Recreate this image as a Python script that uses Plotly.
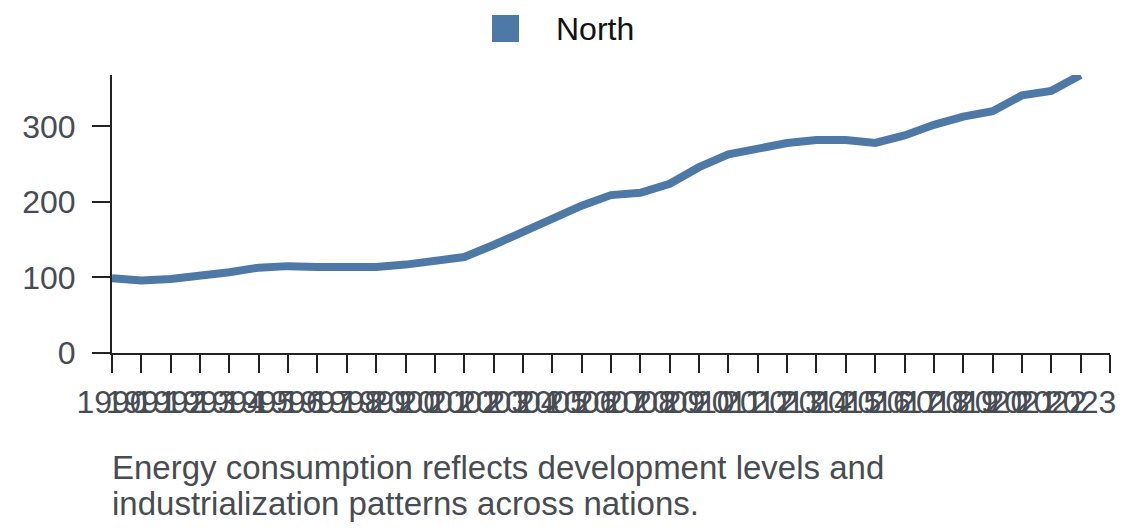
import plotly.graph_objects as go

years = list(range(1990, 2024))
north = [99, 96, 98, 102, 107, 113, 115, 114, 113, 114, 117, 121, 127, 143, 161,
         179, 195, 209, 212, 224, 246, 263, 270, 278, 282, 282, 278, 288, 302,
         313, 320, 341, 347, 368]
series_name = "North"
tick_years = list(range(1990, 2025))
tick_labels = [str(y) for y in range(1990, 2024)] + [""]
y_ticks = [0, 100, 200, 300]
caption_lines = ["Energy consumption reflects development levels and",
                 "industrialization patterns across nations."]

LINE_COLOR = "#4e79a7"
TEXT_COLOR = "#474c53"
AXIS_COLOR = "#222222"
FONT = "Liberation Sans, Arial, sans-serif"

# page has an 8px body margin: the figure is drawn from (8, 8)
OFF = 8
W, H = 1140 - OFF, 528 - OFF
L, R, T, B = 112 - OFF, 30, 75 - OFF, 175
PW, PH = W - L - R, H - T - B


def px_x(px):
    return (px - OFF - L) / PW


def px_y(py):
    return (H - B - (py - OFF)) / PH


fig = go.Figure()
fig.add_trace(go.Scatter(
    x=years, y=north, mode="lines", name=series_name, showlegend=False,
    line=dict(color=LINE_COLOR, width=8), hoverinfo="x+y", cliponaxis=False,
))

fig.update_layout(
    width=W, height=H,
    margin=dict(l=L, r=R, t=T, b=B, pad=0),
    paper_bgcolor="white", plot_bgcolor="white",
    font=dict(family=FONT, size=32, color=TEXT_COLOR),
    showlegend=False,
    xaxis=dict(
        range=[1990, 2024], tickmode="array", tickvals=tick_years, ticktext=tick_labels,
        tickangle=0, showgrid=False, zeroline=False, showline=True,
        linecolor=AXIS_COLOR, linewidth=2, ticks="outside", ticklen=18, tickwidth=2,
        tickcolor=AXIS_COLOR, tickfont=dict(size=32, color=TEXT_COLOR),
        ticklabelstandoff=2,
    ),
    yaxis=dict(
        range=[0, max(north)], tickmode="array", tickvals=y_ticks,
        showgrid=False, zeroline=False, showline=True,
        linecolor=AXIS_COLOR, linewidth=2, ticks="outside", ticklen=18, tickwidth=2,
        tickcolor=AXIS_COLOR, tickfont=dict(size=32, color=TEXT_COLOR),
        ticklabelstandoff=10,
    ),
)

# legend: square swatch + label
fig.add_shape(type="rect", xref="paper", yref="paper",
              x0=px_x(492), x1=px_x(519), y0=px_y(42), y1=px_y(15),
              fillcolor=LINE_COLOR, line=dict(width=0), layer="above")
fig.add_annotation(text=series_name, xref="paper", yref="paper",
                   x=px_x(554), y=px_y(29), xanchor="left", yanchor="middle",
                   showarrow=False, font=dict(size=32, color="#111111"))

for i, line in enumerate(caption_lines):
    fig.add_annotation(text=line, xref="paper", yref="paper",
                       x=px_x(110), y=px_y(467 + 36 * i), xanchor="left", yanchor="middle",
                       showarrow=False, font=dict(size=33, color=TEXT_COLOR))

fig.write_html("out.html")
